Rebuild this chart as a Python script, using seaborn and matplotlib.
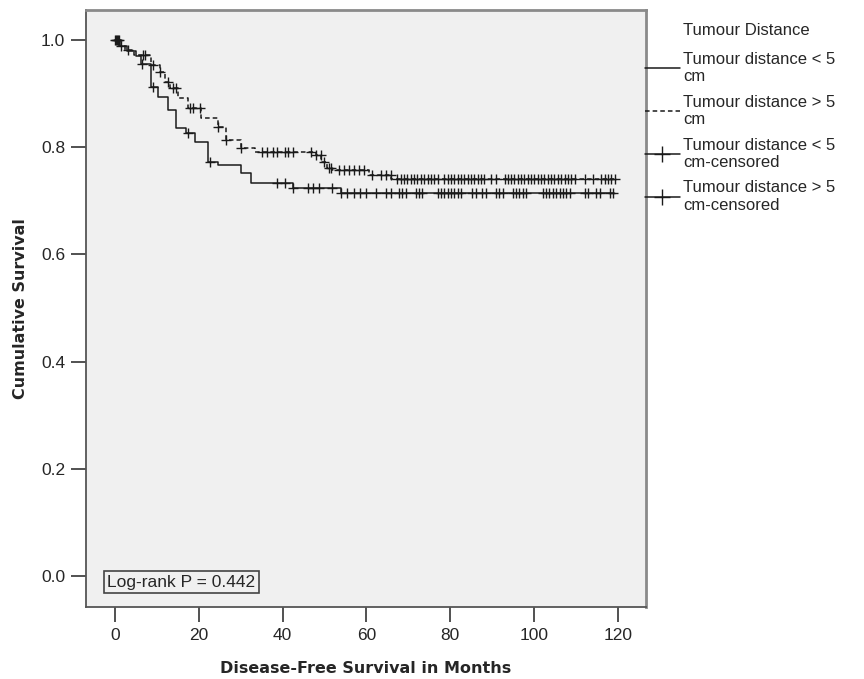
import numpy as np
import pandas as pd
import seaborn as sns
import matplotlib.pyplot as plt
from matplotlib.lines import Line2D

sns.set_theme(style='ticks')
plt.rcParams['font.family'] = ['Liberation Sans', 'DejaVu Sans']

# Kaplan-Meier steps
times_lt5 = [0, 1.5, 3.0, 5.0, 6.2, 8.6, 10.3, 12.7, 14.6, 17.0, 19.2, 22.3, 24.7, 30.2, 32.6, 42.6, 53.9, 119]
surv_lt5 = [1.0, 0.99, 0.98, 0.97, 0.955, 0.913, 0.894, 0.870, 0.836, 0.827, 0.810, 0.773, 0.767, 0.752, 0.734, 0.725, 0.714, 0.714]

times_gt5 = [0, 1.0, 2.4, 4.5, 8.6, 10.8, 12.0, 13.2, 15.1, 17.5, 20.6, 24.7, 26.6, 30.2, 33.5,
             47.9, 49.3, 50.5, 51.7, 60.6, 66.0, 119]
surv_gt5 = [1.0, 0.99, 0.981, 0.972, 0.954, 0.941, 0.922, 0.911, 0.892, 0.874, 0.855, 0.838, 0.814, 0.799, 0.792,
            0.786, 0.773, 0.762, 0.757, 0.749, 0.740, 0.740]

# censored cases (months)
cens_lt5 = [0.5, 1.0, 6.5, 9.0, 17.5, 22.7, 38.6, 40.7, 42.6, 46.0, 47.3, 48.6, 51.7, 54.0, 55.5, 57.0,
            58.5, 60.0, 62.3, 64.6, 65.8, 67.8, 68.6, 69.4, 71.8, 72.6, 73.4, 77.0, 77.8, 78.6, 79.4,
            80.2, 81.0, 81.8, 82.6, 85.3, 86.2, 87.7, 88.6, 91.0, 91.7, 92.5, 94.9, 95.7, 96.5, 97.3,
            98.1, 102.1, 102.9, 103.7, 104.5, 105.3, 106.1, 106.9, 107.7, 108.5, 112.1, 112.9, 114.9,
            115.7, 118.1, 118.9]
cens_gt5 = [0.0, 0.3, 0.7, 1.4, 3.1, 6.7, 7.2, 9.1, 10.8, 12.7, 13.9, 14.6, 18.0, 18.7, 20.4, 24.7,
            26.6, 30.2, 35.0, 36.2, 37.8, 38.6, 40.7, 41.4, 42.6, 46.7, 48.1, 49.1, 49.8, 51.0, 51.5,
            53.4, 54.6, 55.8, 57.0, 58.2, 59.4, 61.3, 63.5, 64.6, 65.8, 67.4, 68.2, 69.0, 69.8, 70.6,
            71.4, 72.2, 73.0, 73.8, 74.6, 75.4, 76.2, 77.0, 78.6, 79.4, 80.2, 81.0, 81.8, 82.6, 83.4,
            84.2, 85.0, 85.8, 86.6, 87.4, 88.2, 89.7, 90.9, 93.0, 93.7, 94.5, 95.3, 96.1, 96.9, 97.7,
            98.5, 99.3, 100.1, 100.9, 101.7, 102.5, 103.3, 104.1, 104.9, 105.7, 106.5, 107.3, 108.1,
            108.9, 109.7, 112.1, 114.1, 116.1, 116.9, 117.7, 118.5, 119.3]

legend_labels = ['Tumour distance < 5\ncm', 'Tumour distance > 5\ncm',
                 'Tumour distance < 5\ncm-censored', 'Tumour distance > 5\ncm-censored']


def surv_at(times, surv, t):
    idx = np.searchsorted(times, t, side='right') - 1
    return np.array(surv)[np.clip(idx, 0, len(surv) - 1)]


fig = plt.figure(figsize=(8.64, 6.79), dpi=100)
ax = fig.add_axes([0.0995, 0.106, 0.648, 0.879])
ax.set_facecolor('#f0f0f0')

sns.lineplot(x=times_lt5, y=surv_lt5, ax=ax, drawstyle='steps-post', estimator=None, sort=False,
             color='#1a1a1a', linewidth=1.1)
sns.lineplot(x=times_gt5, y=surv_gt5, ax=ax, drawstyle='steps-post', estimator=None, sort=False,
             color='#1a1a1a', linewidth=1.1, linestyle=(0, (3, 2)))

sns.scatterplot(x=cens_lt5, y=surv_at(times_lt5, surv_lt5, cens_lt5), ax=ax, marker='+', s=50,
                color='#1a1a1a', linewidth=1.0)
sns.scatterplot(x=cens_gt5, y=surv_at(times_gt5, surv_gt5, cens_gt5), ax=ax, marker='+', s=50,
                color='#1a1a1a', linewidth=1.0)

ax.set_xlim(-6.9, 126.7)
ax.set_ylim(-0.058, 1.056)
ax.set_xticks([0, 20, 40, 60, 80, 100, 120])
ax.set_yticks([0.0, 0.2, 0.4, 0.6, 0.8, 1.0])
ax.set_yticklabels(['0.0', '0.2', '0.4', '0.6', '0.8', '1.0'])
ax.tick_params(length=11, width=1.2, color='#333333', labelsize=12.5, pad=4)
for s in ax.spines.values():
    s.set_color('#555555')
    s.set_linewidth(1.3)
for s in ['top', 'right']:
    ax.spines[s].set_color('#8a8a8a')
    ax.spines[s].set_linewidth(2)

ax.set_xlabel('Disease-Free Survival in Months', fontsize=11.5, fontweight='bold',
              family='DejaVu Sans', labelpad=13)
ax.set_ylabel('Cumulative Survival', fontsize=11.5, fontweight='bold',
              family='DejaVu Sans', labelpad=9)

ax.text(0.038, 0.034, 'Log-rank P = 0.442', transform=ax.transAxes, fontsize=12.5,
        bbox=dict(boxstyle='square,pad=0.2', fc='#f0f0f0', ec='#444444', lw=1.2))

handles = [Line2D([], [], color='#1a1a1a', lw=1.1),
           Line2D([], [], color='#1a1a1a', lw=1.1, ls=(0, (3, 2))),
           Line2D([], [], color='#1a1a1a', lw=1.1, marker='+', markersize=11),
           Line2D([], [], color='#1a1a1a', lw=1.1, marker='+', markersize=11)]
leg = fig.legend(handles, legend_labels, title='Tumour Distance', loc='upper left',
                 bbox_to_anchor=(0.729, 0.988), frameon=False, fontsize=12, title_fontsize=12,
                 handlelength=2.1, handletextpad=0.2, labelspacing=0.62, alignment='left')
leg.get_title().set_position((38, 0))
leg._legend_box.sep = 10

plt.savefig('out.png', dpi=100)
